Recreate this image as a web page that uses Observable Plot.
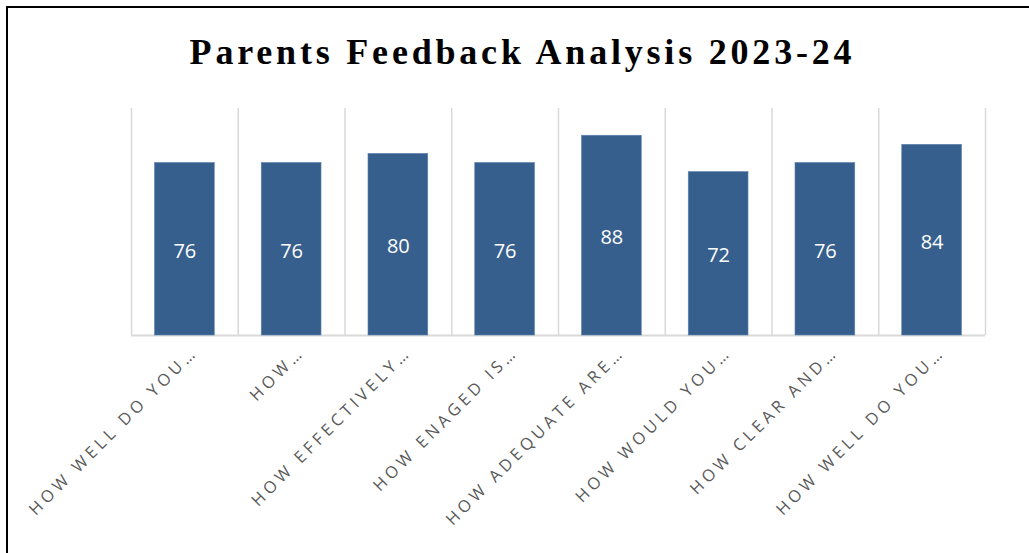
<!DOCTYPE html>
<html>
<head>
<meta charset="utf-8">
<script src="https://cdn.jsdelivr.net/npm/d3@7"></script>
<script src="https://cdn.jsdelivr.net/npm/@observablehq/plot@0.6"></script>
<style>
  html, body { margin: 0; padding: 0; background: #fff; overflow: hidden; width: 1029px; height: 553px; }
  #wrap { position: relative; width: 1029px; height: 553px; }
  #frame { position: absolute; left: 6px; top: 6px; width: 1100px; height: 600px; border-left: 2px solid #000; border-top: 2px solid #000; }
  #title { position: absolute; left: 8px; top: 34px; width: 1029px; text-align: center; font-family: "Liberation Serif", "Times New Roman", serif; font-weight: bold; font-size: 36px; line-height: 36px; letter-spacing: 3.8px; color: #000; white-space: nowrap; }
  #chart { position: absolute; left: 0; top: 0; }
</style>
</head>
<body>
<div id="wrap">
  <div id="chart"></div>
  <div id="frame"></div>
  <div id="title">Parents Feedback Analysis 2023-24</div>
</div>
<script>
const ids = ["q1", "q2", "q3", "q4", "q5", "q6", "q7", "q8"];
const questionLabels = [
  "HOW WELL DO YOU…",
  "HOW…",
  "HOW EFFECTIVELY…",
  "HOW ENAGED IS…",
  "HOW ADEQUATE ARE…",
  "HOW WOULD YOU…",
  "HOW CLEAR AND…",
  "HOW WELL DO YOU…"
];
const scores = [76, 76, 80, 76, 88, 72, 76, 84];

const data = ids.map((id, i) => ({id, label: questionLabels[i], score: scores[i]}));

const W = 1029, H = 553, mL = 131, mR = 44, mT = 108, mB = 218;
const step = (W - mL - mR) / ids.length;

const plot = Plot.plot({
  width: W,
  height: H,
  marginLeft: mL,
  marginRight: mR,
  marginTop: mT,
  marginBottom: mB,
  style: {background: "transparent", overflow: "visible"},
  x: {type: "band", domain: ids, paddingInner: 0.44, paddingOuter: 0.22, round: false, axis: null},
  y: {domain: [0, 100], axis: null},
  marks: [
    Plot.ruleX(ids, {x: d => d, y1: 0, y2: 100, dx: -step / 2, stroke: "#d9d9d9", strokeWidth: 1.5}),
    Plot.ruleX(ids.slice(-1), {x: d => d, y1: 0, y2: 100, dx: step / 2, stroke: "#d9d9d9", strokeWidth: 1.5}),
    Plot.ruleY([0], {stroke: "#d9d9d9", strokeWidth: 2}),
    Plot.barY(data, {x: "id", y: "score", fill: "#365f8e", stroke: "#5f84b0", strokeWidth: 0.6}),
    Plot.text(data, {x: "id", y: d => d.score / 2, text: d => String(d.score), fill: "#ffffff", fontSize: 20, fontFamily: "Open Sans", dy: 2}),
    Plot.text(data, {x: "id", y: 0, text: "label", rotate: -45, textAnchor: "end", fill: "#595959", fontSize: 16.5, fontFamily: "Open Sans", dx: 10, dy: 14})
  ]
});

d3.select(plot).selectAll("g[aria-label='text']").filter((d, i) => i === 1).selectAll("text").attr("letter-spacing", "4px");
document.getElementById("chart").appendChild(plot);
</script>
</body>
</html>
